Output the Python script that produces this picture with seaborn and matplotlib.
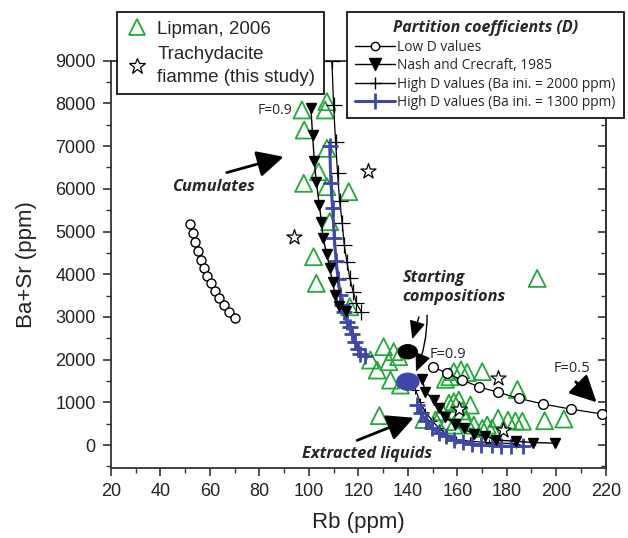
import numpy as np
import pandas as pd
import matplotlib
matplotlib.use('Agg')
import matplotlib.pyplot as plt
import seaborn as sns
from matplotlib.lines import Line2D
from matplotlib.patches import Ellipse
from matplotlib.ticker import MultipleLocator

# ---------------- data ----------------
lipman_rb = [97.2, 107.3, 106.6, 98.1, 107.3, 103.9, 97.9, 107.3, 116.1, 108.4, 101.9, 103.0, 116.5,
             130.2, 134.3, 136.3, 124.9, 132.3, 127.6, 133.0, 137.0, 128.5,
             155.2, 158.6, 161.5, 164.0, 170.1, 157.0,
             184.3, 192.3, 195.3, 203.1,
             146.5, 151.2, 153.9, 156.6, 158.6, 160.6, 155.9, 158.6, 163.3, 166.7, 170.1, 172.1,
             174.1, 176.5, 180.5, 183.5, 186.3, 165.3, 162.0]
lipman_basr = [7846, 8040, 7846, 7377, 6949, 6401, 6129, 6050, 5933, 5230, 4411, 3787, 3239,
               2303, 2186, 2069, 1991, 1951, 1757, 1522, 1405, 690,
               1540, 1720, 1760, 1700, 1720, 1600,
               1300, 3903, 570, 610,
               600, 586, 781, 976, 1015, 1054, 547, 468, 586, 468, 391, 468,
               391, 625, 580, 560, 560, 937, 800]

fiamme_rb = [123.8, 93.8, 176.6, 160.6, 178.5]
fiamme_basr = [6420, 4880, 1570, 850, 350]

lowd_cum_rb = [52.0, 53.3, 54.1, 55.1, 56.3, 57.7, 59.0, 60.5, 62.1, 63.7, 65.6, 67.9, 70.3]
lowd_cum_basr = [5176, 4958, 4747, 4544, 4340, 4145, 3958, 3787, 3614, 3435, 3272, 3115, 2967]
lowd_liq_rb = [150.1, 155.9, 162.0, 168.7, 176.6, 184.9, 194.8, 205.8, 218.7]
lowd_liq_basr = [1834, 1679, 1522, 1365, 1234, 1093, 960, 843, 726]

nash_cum_rb = [100.8, 101.5, 102.2, 103.0, 104.2, 105.1, 105.7, 107.3, 108.4, 109.6, 110.7, 112.2, 115.0]
nash_cum_basr = [7900, 7260, 6650, 6170, 5620, 5230, 4840, 4470, 4140, 3810, 3510, 3260, 3150]
nash_liq_rb = [145.8, 147.1, 150.5, 152.6, 155.2, 159.0, 162.6, 166.7, 171.1, 175.5, 183.6, 190.5, 199.5]
nash_liq_basr = [1538, 1249, 1054, 859, 663, 484, 391, 250, 218, 117, 90, 60, 45]

high2000_cum_rb = [109.3, 110.0, 110.8, 111.6, 112.4, 113.5, 114.3, 115.4, 116.5, 117.9, 119.2, 121.2]
high2000_cum_basr = [8990, 7960, 7090, 6360, 5720, 5190, 4680, 4280, 3920, 3590, 3320, 3120]
high2000_liq_rb = [141.8, 143.1, 145.0, 147.1, 150.0, 152.5, 155.9, 159.3, 165.0, 172.7, 183.6]
high2000_liq_basr = [1500, 1300, 1000, 780, 560, 400, 240, 130, 90, 60, 30]

high1300_cum_rb = [108.4, 108.9, 109.6, 110.3, 111.0, 111.8, 112.7, 113.5, 114.3, 115.4, 116.5,
                   117.6, 118.8, 119.7, 120.8, 122.8]
high1300_cum_basr = [7010, 6140, 5540, 4840, 4310, 3890, 3510, 3280, 3120, 2890, 2770,
                     2610, 2420, 2260, 2130, 2080]
high1300_liq_rb = [143.9, 145.3, 147.5, 149.7, 152.6, 155.6, 158.5, 162.2, 165.8, 169.5, 173.9,
                   177.6, 181.9, 186.4]
high1300_liq_basr = [939, 745, 553, 398, 283, 206, 129, 75, 28, 7, -9, -23, -30, -30]

start_rb = [140.0, 140.0]
start_basr = [2186, 1483]

x_ticks = [20, 40, 60, 80, 100, 120, 140, 160, 180, 200, 220]
y_ticks = [0, 1000, 2000, 3000, 4000, 5000, 6000, 7000, 8000, 9000]

# ---------------- style ----------------
sns.set_theme(style='ticks')
plt.rcParams['font.family'] = ['Liberation Sans', 'DejaVu Sans']
MYR = ['Open Sans', 'DejaVu Sans']

GREEN = '#23a63a'
BLUE = '#3f48a8'
AX = '#333333'

fig = plt.figure(figsize=(6.28, 5.38), dpi=100)
W, H = 628, 538
ax = fig.add_axes([111 / W, 1 - 467.7 / H, (605.7 - 111) / W, (467.7 - 60.7) / H])

# Lipman triangles
sns.scatterplot(x=lipman_rb, y=lipman_basr, ax=ax, marker='^', s=150,
                facecolor='none', edgecolor=GREEN, linewidth=1.3, zorder=3)

# Low D
ax.plot(lowd_cum_rb, lowd_cum_basr, ls='none', marker='o', ms=6.5,
        mfc='white', mec='black', mew=1.0, zorder=4)
ax.plot(lowd_liq_rb, lowd_liq_basr, color='black', lw=0.9, marker='o', ms=7,
        mfc='white', mec='black', mew=1.0, zorder=4)
# High D 2000
ax.plot(high2000_cum_rb, high2000_cum_basr, color='black', lw=0.9, marker='+', ms=11,
        mew=0.9, zorder=4)
ax.plot(high2000_liq_rb, high2000_liq_basr, color='black', lw=0.9, marker='+', ms=6,
        mew=0.8, zorder=4)
# High D 1300
ax.plot(high1300_cum_rb, high1300_cum_basr, color=BLUE, lw=2.2, marker='+', ms=12,
        mew=2.0, zorder=4)
ax.plot(high1300_liq_rb, high1300_liq_basr, color=BLUE, lw=2.2, marker='+', ms=12,
        mew=2.0, zorder=4)
# Nash & Crecraft
ax.plot(nash_cum_rb, nash_cum_basr, color='black', lw=1.0, marker='v', ms=7.5,
        mfc='black', mec='black', zorder=5)
ax.plot(nash_liq_rb, nash_liq_basr, color='black', lw=1.0, marker='v', ms=7.5,
        mfc='black', mec='black', zorder=5)

# Trachydacite fiamme stars
sns.scatterplot(x=fiamme_rb, y=fiamme_basr, ax=ax, marker='*', s=130,
                facecolor='white', edgecolor='black', linewidth=0.9, zorder=6)

# starting compositions
ax.add_patch(Ellipse((start_rb[0], start_basr[0]), 8.2, 360, facecolor='black',
                     edgecolor='none', zorder=7))
ax.add_patch(Ellipse((start_rb[1], start_basr[1]), 9.5, 430, facecolor=BLUE,
                     edgecolor='none', zorder=7))

# axes
ax.set_xlim(20, 220)
ax.set_ylim(-530, 9000)
ax.set_xticks(x_ticks)
ax.set_yticks(y_ticks)
ax.xaxis.set_minor_locator(MultipleLocator(10))
ax.yaxis.set_minor_locator(MultipleLocator(500))
ax.tick_params(which='major', direction='out', length=6, width=1.2, labelsize=13,
               color=AX, labelcolor='#222222', pad=5)
ax.tick_params(which='minor', direction='out', length=3.5, width=1.0, color=AX)
for s in ax.spines.values():
    s.set_linewidth(1.3)
    s.set_color(AX)
sec = ax.secondary_yaxis('right')
sec.set_yticks(y_ticks)
sec.yaxis.set_minor_locator(MultipleLocator(500))
sec.tick_params(which='major', direction='in', length=6, width=1.2, labelright=False,
                color=AX)
sec.tick_params(which='minor', direction='in', length=3.5, width=1.0, color=AX)
sec.spines['right'].set_linewidth(1.3)
sec.spines['right'].set_color(AX)

ax.set_xlabel('Rb (ppm)', fontsize=16, labelpad=9, color='#222222')
ax.set_ylabel('Ba+Sr (ppm)', fontsize=16, labelpad=13, color='#222222')

# annotations
ax.text(93.5, 7830, 'F=0.9', fontsize=10, ha='right', va='center', family=MYR, zorder=8)
ax.text(149, 2110, 'F=0.9', fontsize=10.5, ha='left', va='center', family=MYR, zorder=8)
ax.text(199, 1800, 'F=0.5', fontsize=10.5, ha='left', va='center', family=MYR, zorder=8)
ax.text(61.3, 6050, 'Cumulates', fontsize=11.8, ha='center', va='center', family=MYR,
        fontweight='bold', fontstyle='italic', zorder=8)
ax.text(137.8, 3690, 'Starting\ncompositions', fontsize=11.8, ha='left', va='center',
        family=MYR, fontweight='bold', fontstyle='italic', linespacing=1.25, zorder=8)
ax.text(123.5, -220, 'Extracted liquids', fontsize=11.8, ha='center', va='center',
        family=MYR, fontweight='bold', fontstyle='italic', zorder=8)

big = dict(arrowstyle='-|>,head_length=0.9,head_width=0.45', color='black', lw=2.0,
           mutation_scale=18, shrinkA=0, shrinkB=0)
ax.annotate('', xy=(89.8, 6750), xytext=(66.8, 6380), arrowprops=big, zorder=8)
ax.annotate('', xy=(142.4, 640), xytext=(119.5, 110), arrowprops=big, zorder=8)
ax.annotate('', xy=(216.3, 1000), xytext=(207.9, 1480), arrowprops=big, zorder=8)
small = dict(arrowstyle='-|>,head_length=0.8,head_width=0.35', color='black', lw=1.0,
             mutation_scale=14, shrinkA=0, shrinkB=0)
ax.annotate('', xy=(141.8, 2480), xytext=(144.5, 3000), arrowprops=small, zorder=8)
ax.annotate('', xy=(143.3, 1720), xytext=(147.8, 3040),
            arrowprops=dict(small, connectionstyle='arc3,rad=-0.1'), zorder=8)

# legends
h1 = [Line2D([], [], ls='none', marker='^', ms=12, mfc='none', mec=GREEN, mew=1.3),
      Line2D([], [], ls='none', marker='*', ms=12, mfc='white', mec='black', mew=0.9)]
leg1 = fig.legend(h1, ['Lipman, 2006', 'Trachydacite\nfiamme (this study)'],
                  loc='upper left', bbox_to_anchor=(117 / W, 1 - 12 / H),
                  bbox_transform=fig.transFigure, frameon=True, fancybox=False,
                  edgecolor='black', framealpha=1, prop={'size': 13.5},
                  handlelength=1.2, handletextpad=0.5, labelspacing=0.45,
                  borderpad=0.45, borderaxespad=0)
leg1.get_frame().set_linewidth(1.2)
leg1.get_texts()[1].set_linespacing(1.45)

h2 = [Line2D([], [], color='black', lw=1.0, marker='o', ms=6, mfc='white', mec='black'),
      Line2D([], [], color='black', lw=1.0, marker='v', ms=8, mfc='black'),
      Line2D([], [], color='black', lw=1.0, marker='+', ms=9, mew=1.0),
      Line2D([], [], color=BLUE, lw=2.2, marker='+', ms=11, mew=2.0)]
leg2 = fig.legend(h2, ['Low D values', 'Nash and Crecraft, 1985',
                       'High D values (Ba ini. = 2000 ppm)',
                       'High D values (Ba ini. = 1300 ppm)'],
                  loc='upper left', bbox_to_anchor=(347 / W, 1 - 12 / H),
                  bbox_transform=fig.transFigure, frameon=True, fancybox=False,
                  edgecolor='black', framealpha=1, prop={'family': MYR, 'size': 9.9},
                  title='Partition coefficients (D)',
                  title_fontproperties={'family': MYR, 'size': 11.5, 'weight': 'bold',
                                        'style': 'italic'},
                  handlelength=2.9, handletextpad=0.15, labelspacing=0.25,
                  borderpad=0.6, borderaxespad=0)
leg2.get_frame().set_linewidth(1.2)

fig.savefig('out.png', dpi=100)
